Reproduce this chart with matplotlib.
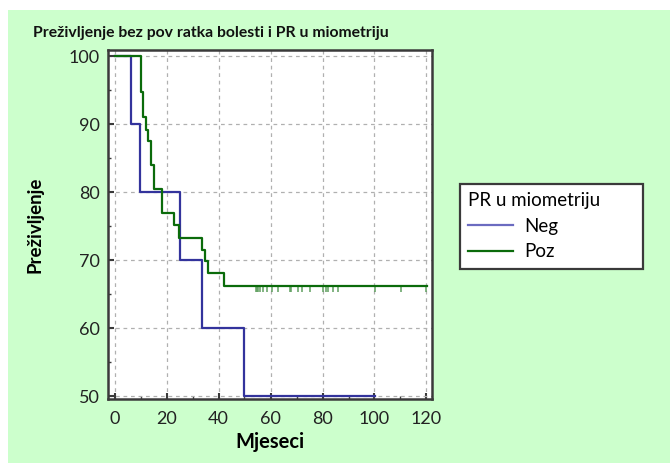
import matplotlib
matplotlib.use("Agg")
import matplotlib.pyplot as plt
from matplotlib.patches import Rectangle
from matplotlib.ticker import MultipleLocator

# ===== DATA =====
neg_t = [0, 6.2, 9.8, 25.0, 33.8, 49.8, 100.2]
neg_s = [100, 90, 80, 70, 60, 50, 50]

poz_t = [0, 10.1, 10.8, 12.0, 13.0, 13.9, 15.1, 18.3, 22.9, 24.9, 33.7, 34.9, 35.8, 42.0, 120.2]
poz_s = [100, 94.7, 91.1, 89.2, 87.5, 84.0, 80.5, 76.9, 75.2, 73.3, 71.5, 69.9, 68.1, 66.2, 66.2]

poz_censored = [54.3, 54.7, 55.3, 56.1, 57.2, 58.7, 60.4, 63.0, 67.4, 68.0, 70.5,
                72.0, 75.1, 80.3, 81.3, 82.2, 84.1, 86.1, 100.2, 110.1, 120.0]
censor_level = 66.2

x_ticks = [0, 20, 40, 60, 80, 100, 120]
y_ticks = [50, 60, 70, 80, 90, 100]

title = "Preživljenje bez pov ratka bolesti i PR u miometriju"
xlabel = "Mjeseci"
ylabel = "Preživljenje"
legend_title = "PR u miometriju"
labels = ["Neg", "Poz"]

BLUE = "#33339c"
GREEN = "#0b6b0b"
TICK_GREEN = "#5f9f5f"
BG = "#ccffcc"

plt.rcParams['font.family'] = ['Lato', 'DejaVu Sans']

W, H = 670, 463
fig = plt.figure(figsize=(W / 100, H / 100), dpi=100, facecolor="white")
fig.patches.append(Rectangle((8 / W, 0), 1 - 8 / W, 1 - 10 / H, transform=fig.transFigure,
                             facecolor=BG, edgecolor="none", zorder=-10))

ax = fig.add_axes([108 / W, 1 - 399 / H, (431.7 - 108) / W, (399 - 50) / H])
ax.set_facecolor("white")

# grid
ax.grid(True, which="major", linestyle=(0, (3, 3)), color="#b0b0b0", linewidth=0.9)
ax.set_axisbelow(True)

ax.step(neg_t, neg_s, where="post", color=BLUE, linewidth=1.6, label=labels[0], zorder=3)
ax.step(poz_t, poz_s, where="post", color=GREEN, linewidth=1.6, label=labels[1], zorder=4)
ax.vlines(poz_censored, censor_level - 0.8, censor_level, color=TICK_GREEN,
          linewidth=1.1, zorder=3)

ax.set_xlim(-2.5, 122)
ax.set_ylim(49.6, 100.9)
ax.set_xticks(x_ticks)
ax.set_yticks(y_ticks)
ax.xaxis.set_minor_locator(MultipleLocator(10))
ax.yaxis.set_minor_locator(MultipleLocator(5))

for s in ax.spines.values():
    s.set_linewidth(1.8)
    s.set_color("#3a3a3a")

ax.tick_params(which="major", direction="in", length=4, width=1.5, color="#3a3a3a",
               labelsize=13, labelcolor="#222222", top=False, right=False)
ax.tick_params(axis="x", which="major", pad=9)
ax.tick_params(axis="y", which="major", pad=6)
ax.tick_params(which="minor", direction="in", length=2.5, width=1.0, color="#3a3a3a",
               top=False, right=False)

ax.set_xlabel(xlabel, fontsize=14.5, fontweight="bold", labelpad=3)
ax.set_ylabel(ylabel, fontsize=13.5, fontweight="bold", labelpad=18)

fig.text(33 / W, 1 - 33 / H, title, fontsize=11.3, fontweight="bold", color="#111111",
         va="center", ha="left")

leg = fig.legend(loc="upper left",
                 bbox_to_anchor=(460 / W, 1 - 267 / H, (643 - 460) / W, (267 - 184) / H),
                 mode="expand", borderaxespad=0,
                 title=legend_title, fontsize=13.5, title_fontsize=13.5,
                 frameon=True, fancybox=False, edgecolor="#3a3a3a", framealpha=1,
                 handlelength=2.4, handletextpad=0.6, labelspacing=0.45,
                 borderpad=0.45, alignment="left")
leg.get_frame().set_linewidth(1.6)
leg.get_lines()[0].set_color("#6b6bc0")

fig.savefig("out.png", dpi=100, facecolor="white")
